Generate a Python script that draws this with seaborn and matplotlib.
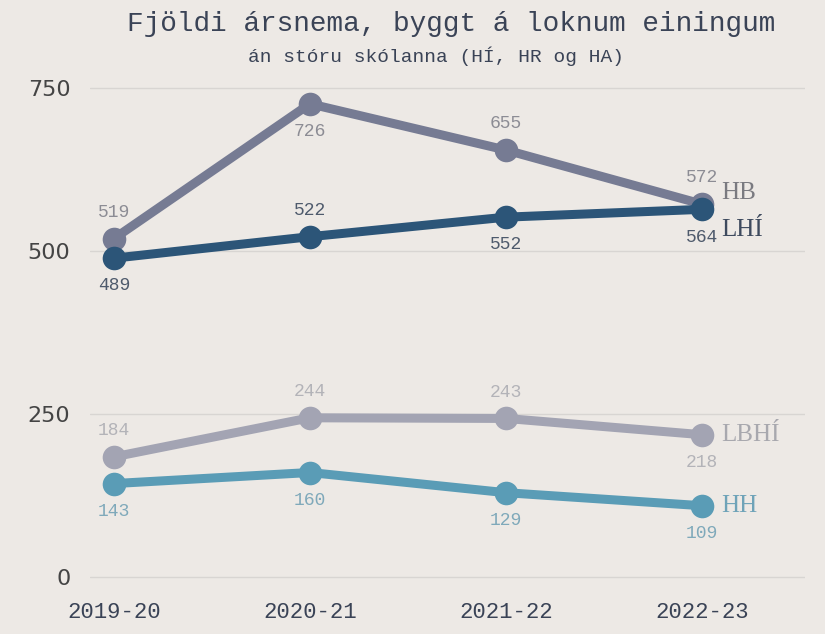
import matplotlib
matplotlib.use("Agg")
import matplotlib.pyplot as plt
import seaborn as sns
import pandas as pd

years = ["2019-20", "2020-21", "2021-22", "2022-23"]
series_names = ["HB", "LHÍ", "LBHÍ", "HH"]
hb = [519, 726, 655, 572]
lhi = [489, 522, 552, 564]
lbhi = [184, 244, 243, 218]
hh = [143, 160, 129, 109]
yticks = [0, 250, 500, 750]

values = {"HB": hb, "LHÍ": lhi, "LBHÍ": lbhi, "HH": hh}
colors = {"HB": "#767b93", "LHÍ": "#2c5578", "LBHÍ": "#a3a4b3", "HH": "#5a9cb6"}
label_colors = {"HB": "#8c8c94", "LHÍ": "#4e5a6c", "LBHÍ": "#b3b3b8", "HH": "#7fa9ba"}
end_colors = {"HB": "#7a7a80", "LHÍ": "#3e4a5e", "LBHÍ": "#a8a8ae", "HH": "#6fa3b8"}
# placement of value labels: +1 above, -1 below
placement = {"HB": [1, -1, 1, 1], "LHÍ": [-1, 1, -1, -1],
             "LBHÍ": [1, 1, 1, -1], "HH": [-1, -1, -1, -1]}
end_offsets = {"HB": 8, "LHÍ": -15, "LBHÍ": 0, "HH": 0}

rows = []
for s in series_names:
    for i, y in enumerate(years):
        rows.append({"year": i, "value": values[s][i], "series": s})
df = pd.DataFrame(rows)

sns.set_theme(style="white")
bg = "#ede9e5"
fig = plt.figure(figsize=(8.25, 6.34), dpi=100, facecolor=bg)
ax = fig.add_axes([0.109, 0.0852, 0.867, 0.786])
ax.set_facecolor(bg)

mono = ["Liberation Mono", "DejaVu Sans Mono"]

for s in ["HB", "LHÍ", "LBHÍ", "HH"]:
    sub = df[df.series == s]
    sns.lineplot(data=sub, x="year", y="value", ax=ax, color=colors[s],
                 linewidth=6.5, marker="o", markersize=17, markeredgewidth=0,
                 legend=False, zorder=3)

for s in series_names:
    for i in range(4):
        v = values[s][i]
        off = 19 if placement[s][i] > 0 else -20
        ax.annotate(str(v), (i, v), xytext=(0, off), textcoords="offset points",
                    ha="center", va="center", fontsize=13, color=label_colors[s],
                    family=mono, zorder=4)
    ax.annotate(s, (3, values[s][3]), xytext=(14, end_offsets[s]),
                textcoords="offset points", ha="left", va="center",
                fontsize=18, color=end_colors[s], family=["Liberation Serif", "DejaVu Serif"],
                zorder=4)

ax.set_xlim(-0.122, 3.526)
ax.set_ylim(-5, 760)
ax.set_yticks(yticks)
ax.set_yticklabels([str(t) for t in yticks], fontsize=16, color="#444444")
ax.set_xticks(range(4))
ax.set_xticklabels(years, fontsize=16, color="#3a4356", family=mono)
ax.tick_params(axis="x", pad=16, length=0)
ax.tick_params(axis="y", pad=14, length=0)
ax.grid(axis="y", color="#d8d5d2", linewidth=1)
ax.set_xlabel("")
ax.set_ylabel("")
for sp in ax.spines.values():
    sp.set_visible(False)

fig.text(0.547, 0.962, "Fjöldi ársnema, byggt á loknum einingum", ha="center", va="center",
         fontsize=20, color="#3a4356", family=mono)
fig.text(0.528, 0.912, "án stóru skólanna (HÍ, HR og HA)", ha="center", va="center",
         fontsize=14, color="#3a4356", family=mono)

fig.savefig("out.png", dpi=100, facecolor=bg)
